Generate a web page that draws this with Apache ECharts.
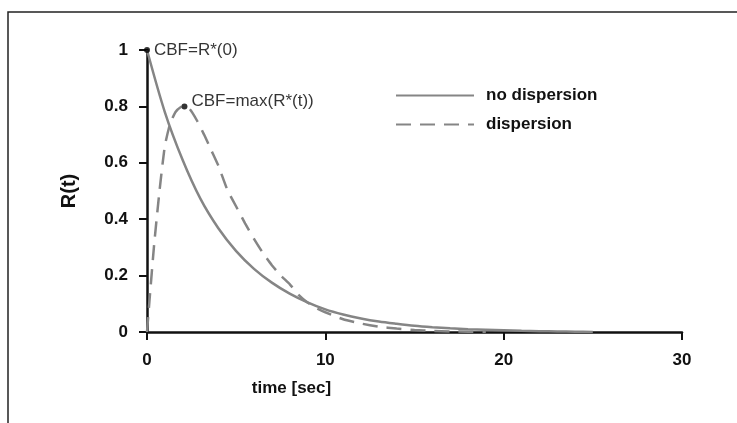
<!DOCTYPE html>
<html>
<head>
<meta charset="utf-8">
<script src="https://cdn.jsdelivr.net/npm/echarts@6/dist/echarts.min.js"></script>
<style>
  html, body { margin: 0; padding: 0; background: #fff; }
  #chart { width: 737px; height: 423px; }
</style>
</head>
<body>
<div id="chart"></div>
<script>
// 无弥散 (solid)
const tSolid = [0, 1, 2, 3, 4, 5, 6, 7, 8, 9, 10, 11, 12, 13, 14, 15, 16, 17, 18, 19, 20, 21, 22, 23, 24, 25]
const rSolid = [1, 0.78, 0.61, 0.472, 0.368, 0.287, 0.224, 0.175, 0.136, 0.105, 0.08, 0.062, 0.048, 0.037, 0.029, 0.022, 0.017, 0.013, 0.01, 0.008, 0.006, 0.004, 0.003, 0.002, 0.001, 0]

// 弥散 (dashed)
const tDisp = [0, 0.15, 0.4, 0.7, 1, 1.3, 1.6, 1.9, 2.1, 2.4, 2.8, 3.2, 3.6, 4, 4.5, 5, 5.5, 6, 6.5, 7, 7.5, 8, 8.5, 9, 9.5, 10, 11, 12, 13, 14, 15, 16, 17, 18, 19]
const rDisp = [0, 0.12, 0.31, 0.5, 0.66, 0.74, 0.78, 0.798, 0.8, 0.79, 0.75, 0.7, 0.645, 0.59, 0.505, 0.445, 0.385, 0.33, 0.28, 0.237, 0.2, 0.17, 0.132, 0.105, 0.085, 0.07, 0.045, 0.03, 0.019, 0.012, 0.007, 0.004, 0.002, 0.001, 0]

// 标注点
const markT = [0, 2.1]
const markR = [1, 0.8]
const markLabels = ['CBF=R*(0)', 'CBF=max(R*(t))']

const seriesNames = ['no dispersion', 'dispersion']
const xTicks = [0, 30, 10]   // min, max, interval
const yTicks = [0, 1, 0.2]

const zip = (a, b) => a.map((v, i) => [v, b[i]])

const gray = '#858585'
const font = '"Liberation Sans", Arial, sans-serif'

const myChart = echarts.init(document.getElementById('chart'))

const option = {
  animation: false,
  backgroundColor: '#fff',
  grid: { left: 147, right: 55, top: 50, bottom: 91 },
  legend: {
    orient: 'vertical',
    left: 390,
    top: 82,
    itemWidth: 78,
    itemHeight: 14,
    itemGap: 12,
    data: seriesNames,
    itemStyle: { opacity: 0 },
    textStyle: { fontFamily: font, fontWeight: 'bold', fontSize: 17, color: '#111', padding: [0, 0, 0, 7] }
  },
  // 外框线
  graphic: [
    { type: 'polyline', shape: { points: [[8, 423], [8, 12], [737, 12]] }, style: { stroke: '#222', lineWidth: 1.5, fill: null } }
  ],
  xAxis: {
    type: 'value',
    min: xTicks[0], max: xTicks[1], interval: xTicks[2],
    name: 'time [sec]',
    nameLocation: 'middle',
    nameGap: 48,
    nameTextStyle: { fontFamily: font, fontWeight: 'bold', fontSize: 17, color: '#111', padding: [0, 246, 0, 0] },
    axisLine: { lineStyle: { color: '#111', width: 2.5 } },
    axisTick: { length: 8, lineStyle: { color: '#111', width: 2 } },
    axisLabel: { margin: 20, fontFamily: font, fontWeight: 'bold', fontSize: 17, color: '#111' },
    splitLine: { show: false }
  },
  yAxis: {
    type: 'value',
    min: yTicks[0], max: yTicks[1], interval: yTicks[2],
    name: 'R(t)',
    nameLocation: 'middle',
    nameGap: 68,
    nameTextStyle: { fontFamily: font, fontWeight: 'bold', fontSize: 20, color: '#111' },
    axisLine: { show: true, lineStyle: { color: '#111', width: 2.5 } },
    axisTick: { show: true, length: 8, lineStyle: { color: '#111', width: 2 } },
    axisLabel: { margin: 19, fontFamily: font, fontWeight: 'bold', fontSize: 17, color: '#111' },
    splitLine: { show: false }
  },
  series: [
    {
      name: seriesNames[0],
      type: 'line',
      data: zip(tSolid, rSolid),
      smooth: 0.3,
      showSymbol: false,
      symbol: 'none',
      lineStyle: { color: gray, width: 2.5 },
      itemStyle: { color: gray }
    },
    {
      name: seriesNames[1],
      type: 'line',
      data: zip(tDisp, rDisp),
      smooth: 0.15,
      showSymbol: false,
      symbol: 'none',
      lineStyle: { color: gray, width: 2.5, type: [15, 9] },
      itemStyle: { color: gray }
    },
    {
      type: 'scatter',
      data: markT.map((t, i) => ({
        value: [t, markR[i]],
        label: {
          show: true,
          formatter: markLabels[i],
          position: 'right',
          distance: 4,
          offset: i === 0 ? [0, 0] : [0, -5],
          fontFamily: font,
          fontSize: 17,
          color: '#000'
        }
      })),
      symbolSize: 6,
      itemStyle: { color: '#000' },
      z: 5
    }
  ]
}

myChart.setOption(option)
</script>
</body>
</html>
